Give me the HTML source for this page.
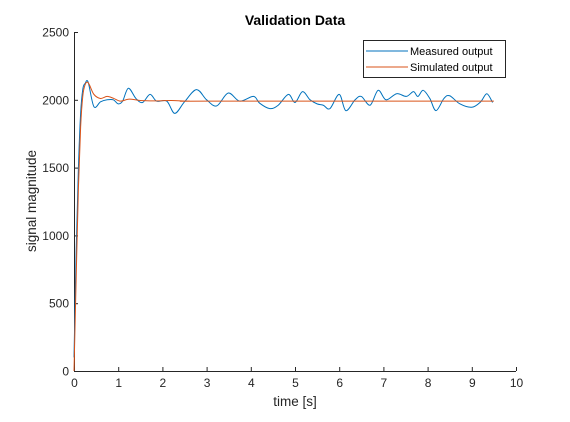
<!DOCTYPE html>
<html><head><meta charset="utf-8"><style>
body{margin:0;background:#fff}
svg text{font-family:"Liberation Sans",sans-serif}
</style></head><body>
<svg id="chart" width="570" height="417">
<rect width="570" height="417" fill="#fff"/>
<text x="295" y="25" text-anchor="middle" font-size="14" font-weight="bold" fill="#000">Validation Data</text>
<g id="plot"></g>
<text x="295" y="406" text-anchor="middle" font-size="13.5" fill="#262626">time [s]</text>
<text transform="translate(36,201) rotate(-90)" text-anchor="middle" font-size="13.5" fill="#262626">signal magnitude</text>
<g>
<rect x="363.5" y="40.5" width="142" height="37" fill="#fff" stroke="#262626" stroke-width="1"/>
<line x1="366" y1="51" x2="408" y2="51" stroke="#0072BD" stroke-width="1"/>
<text x="410" y="55" font-size="11" fill="#000">Measured output</text>
<line x1="366" y1="67" x2="408" y2="67" stroke="#D95319" stroke-width="1"/>
<text x="410" y="71" font-size="11" fill="#000">Simulated output</text>
</g>
</svg>
<script>
const xTicks=[0,1,2,3,4,5,6,7,8,9,10];
const yTicks=[0,500,1000,1500,2000,2500];
const measT=[0,0.05,0.1,0.15,0.2,0.25,0.32,0.45,0.6,0.75,0.89,1.0,1.1,1.23,1.4,1.55,1.72,1.87,2.1,2.28,2.5,2.77,3.0,3.23,3.49,3.75,4.06,4.2,4.43,4.62,4.85,5.0,5.17,5.34,5.5,5.64,5.79,6.0,6.15,6.36,6.5,6.7,6.88,7.06,7.3,7.52,7.68,7.78,7.9,8.05,8.19,8.37,8.5,8.73,9.0,9.2,9.34,9.47];
const measV=[100,900,1500,1900,2080,2120,2130,1950,1985,2000,2000,1970,1990,2085,2010,1980,2040,1990,1990,1900,1985,2075,2000,1955,2050,1990,2025,1975,1935,1960,2040,1980,2060,2000,1970,1960,1935,2040,1920,2000,2025,1960,2070,2000,2045,2025,2060,2025,2070,2010,1920,2010,2030,1970,1945,1985,2045,1980];
const simT=[0,0.05,0.1,0.15,0.2,0.25,0.3,0.35,0.45,0.6,0.75,0.9,1.05,1.25,1.5,1.8,2.2,2.6,3.0,9.5];
const simV=[0,700,1350,1800,2030,2110,2130,2110,2040,2010,2025,2010,1990,2005,1995,1992,1995,1990,1990,1990];
const X0=74,X1=516,Y0=371,Y1=32;
const sx=v=>X0+(v-0)/(10-0)*(X1-X0);
const sy=v=>Y0-(v-0)/(2500-0)*(Y0-Y1);
const NS="http://www.w3.org/2000/svg";
const g=document.getElementById('plot');
function mk(t,a){const e=document.createElementNS(NS,t);for(const k in a)e.setAttribute(k,a[k]);g.appendChild(e);return e;}
const ax=mk('path',{d:`M${X0+.5},${Y1} V${Y0+.5} H${X1}`,fill:'none',stroke:'#262626','stroke-width':1});


xTicks.forEach(t=>{const x=sx(t)+.5;
const l=mk('line',{x1:x,y1:Y0,x2:x,y2:Y0-4,stroke:'#262626'});


const tx=mk('text',{x:x,y:Y0+16,'text-anchor':'middle','font-size':12,fill:'#262626'});tx.textContent=t;

});
yTicks.forEach(t=>{const y=sy(t)+.5;
const l=mk('line',{x1:X0,y1:y,x2:X0+4,y2:y,stroke:'#262626'});


const tx=mk('text',{x:X0-5,y:y+4,'text-anchor':'end','font-size':12,fill:'#262626'});tx.textContent=t;

});
function smooth(T,V){const p=T.map((t,i)=>[sx(t),sy(V[i])]);let d=`M${p[0][0]},${p[0][1]}`;
for(let i=0;i<p.length-1;i++){const p0=p[i-1]||p[i],p1=p[i],p2=p[i+1],p3=p[i+2]||p2;
d+=` C${p1[0]+(p2[0]-p0[0])/6},${p1[1]+(p2[1]-p0[1])/6} ${p2[0]-(p3[0]-p1[0])/6},${p2[1]-(p3[1]-p1[1])/6} ${p2[0]},${p2[1]}`;}return d;}
const m=mk('path',{d:smooth(measT,measV),fill:'none',stroke:'#0072BD','stroke-width':1});


const s=mk('path',{d:smooth(simT,simV),fill:'none',stroke:'#D95319','stroke-width':1});


</script>
</body></html>
